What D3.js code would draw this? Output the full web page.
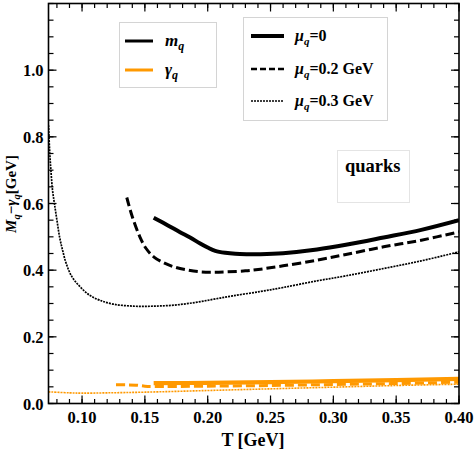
<!DOCTYPE html>
<html>
<head>
<meta charset="utf-8">
<script src="https://cdn.jsdelivr.net/npm/d3@7"></script>
<style>
  body { margin: 0; background: #fff; }
  svg { display: block; font-family: "Liberation Serif", "DejaVu Serif", serif; font-weight: bold; }
</style>
</head>
<body>
<svg width="474" height="452"></svg>
<script>
// ---- data (T in GeV)
const tMass0 = [0.157, 0.168, 0.178, 0.186, 0.194, 0.200, 0.206, 0.214, 0.222, 0.232, 0.242, 0.260, 0.287, 0.310, 0.340, 0.370, 0.400];
const mMass0 = [0.557, 0.535, 0.514, 0.498, 0.480, 0.468, 0.458, 0.452, 0.449, 0.448, 0.448, 0.451, 0.462, 0.476, 0.498, 0.521, 0.550];

const tMass2 = [0.1356, 0.140, 0.146, 0.151, 0.157, 0.165, 0.173, 0.183, 0.194, 0.205, 0.215, 0.230, 0.242, 0.260, 0.287, 0.310, 0.340, 0.370, 0.400];
const mMass2 = [0.618, 0.560, 0.500, 0.465, 0.440, 0.422, 0.410, 0.401, 0.395, 0.394, 0.395, 0.398, 0.403, 0.413, 0.430, 0.447, 0.470, 0.490, 0.515];

const tMass3 = [0.0733, 0.0742, 0.0752, 0.0765, 0.078, 0.080, 0.0821, 0.0845, 0.0874, 0.092, 0.0985, 0.106, 0.114, 0.125, 0.141, 0.157, 0.173, 0.190, 0.205, 0.220, 0.242, 0.260, 0.287, 0.310, 0.340, 0.370, 0.400];
const mMass3 = [0.835, 0.760, 0.700, 0.640, 0.600, 0.550, 0.500, 0.460, 0.420, 0.380, 0.350, 0.325, 0.310, 0.298, 0.292, 0.292, 0.295, 0.303, 0.313, 0.323, 0.336, 0.348, 0.368, 0.383, 0.405, 0.428, 0.455];

const tGam0 = [0.157, 0.200, 0.250, 0.300, 0.350, 0.400];
const gGam0 = [0.061, 0.062, 0.064, 0.067, 0.070, 0.074];

const tGam2 = [0.127, 0.135, 0.143, 0.150, 0.157, 0.200, 0.250, 0.300, 0.350, 0.400];
const gGam2 = [0.056, 0.056, 0.055, 0.052, 0.051, 0.052, 0.054, 0.057, 0.060, 0.064];

const tGam3 = [0.0733, 0.090, 0.100, 0.120, 0.150, 0.200, 0.250, 0.300, 0.350, 0.400];
const gGam3 = [0.035, 0.032, 0.031, 0.032, 0.034, 0.039, 0.044, 0.049, 0.054, 0.058];

const xTicks = [0.10, 0.15, 0.20, 0.25, 0.30, 0.35, 0.40];
const yTicks = [0.0, 0.2, 0.4, 0.6, 0.8, 1.0];

const svg = d3.select('svg');
const margin = { left: 48.5, right: 15, top: 3.5, bottom: 48.5 };
const width = 474 - margin.left - margin.right;
const height = 452 - margin.top - margin.bottom;

const x = d3.scaleLinear().domain([0.0733, 0.4]).range([0, width]);
const y = d3.scaleLinear().domain([0, 1.2]).range([height, 0]);

const g = svg.append('g').attr('transform', `translate(${margin.left},${margin.top})`);

// ---- curves
const ORANGE = '#ff9900';
const line = d3.line().x(d => x(d[0])).y(d => y(d[1])).curve(d3.curveCatmullRom.alpha(0.5));
const zip = (a, b) => a.map((v, i) => [v, b[i]]);

g.append('defs').append('clipPath').attr('id', 'clip')
  .append('rect').attr('width', width).attr('height', height);
const curves = g.append('g').attr('clip-path', 'url(#clip)');

const series = [
  { d: zip(tGam3, gGam3), c: ORANGE, w: 1.6, dash: '2,1' },
  { d: zip(tGam2, gGam2), c: ORANGE, w: 3, dash: '9,4' },
  { d: zip(tGam0, gGam0), c: ORANGE, w: 4.2, dash: null },
  { d: zip(tMass3, mMass3), c: '#000', w: 1.7, dash: '2,1' },
  { d: zip(tMass2, mMass2), c: '#000', w: 3, dash: '9,4' },
  { d: zip(tMass0, mMass0), c: '#000', w: 4, dash: null }
];

curves.selectAll('path')
  .data(series)
  .join('path')
  .attr('d', s => line(s.d))
  .attr('fill', 'none')
  .attr('stroke', s => s.c)
  .attr('stroke-width', s => s.w)
  .attr('stroke-dasharray', s => s.dash);

// ---- axes (ticks inside, on all four sides)
const xMinor = d3.range(8, 41).map(v => v / 100);
const yMinor = d3.range(0, 25).map(v => v * 0.05);

function ticks(vals, scale, isX, side, len) {
  g.append('g').selectAll('line')
    .data(vals)
    .join('line')
    .attr('x1', d => isX ? scale(d) : (side === 'start' ? 0 : width))
    .attr('x2', d => isX ? scale(d) : (side === 'start' ? len : width - len))
    .attr('y1', d => isX ? (side === 'start' ? height : 0) : scale(d))
    .attr('y2', d => isX ? (side === 'start' ? height - len : len) : scale(d))
    .attr('stroke', '#000')
    .attr('stroke-width', 1.2);
}
ticks(xMinor, x, true, 'start', 4.5);
ticks(xMinor, x, true, 'end', 4.5);
ticks(xTicks, x, true, 'start', 8);
ticks(xTicks, x, true, 'end', 8);
ticks(yMinor, y, false, 'start', 5);
ticks(yMinor, y, false, 'end', 5);
ticks(yTicks, y, false, 'start', 8);
ticks(yTicks, y, false, 'end', 8);

g.append('rect')
  .attr('width', width).attr('height', height)
  .attr('fill', 'none').attr('stroke', '#000').attr('stroke-width', 1.6);

g.append('g').selectAll('text')
  .data(xTicks)
  .join('text')
  .attr('x', d => x(d))
  .attr('y', height + 19)
  .attr('text-anchor', 'middle')
  .attr('font-size', 16.5)
  .text(d => d3.format('.2f')(d));

g.append('g').selectAll('text')
  .data(yTicks)
  .join('text')
  .attr('x', -5)
  .attr('y', d => y(d) + 6)
  .attr('text-anchor', 'end')
  .attr('font-size', 16.5)
  .text(d => d3.format('.1f')(d));

// ---- axis titles
svg.append('text')
  .attr('x', 253)
  .attr('y', 446)
  .attr('text-anchor', 'middle')
  .attr('font-size', 18)
  .text('T [GeV]');

const yt = svg.append('text')
  .attr('transform', 'translate(16,194) rotate(-90)')
  .attr('text-anchor', 'middle')
  .attr('font-size', 15);
yt.append('tspan').attr('font-style', 'italic').text('M');
yt.append('tspan').attr('font-style', 'italic').attr('font-size', 10.5).attr('dy', 3.5).text('q');
yt.append('tspan').attr('dy', -3.5).text('\u2212');
yt.append('tspan').attr('font-style', 'italic').text('\u03b3');
yt.append('tspan').attr('font-style', 'italic').attr('font-size', 10.5).attr('dy', 3.5).text('q');
yt.append('tspan').attr('dy', -3.5).text('[GeV]');

// ---- legend: quantity
const leg1 = svg.append('g');
leg1.append('rect').attr('x', 119.5).attr('y', 22.5).attr('width', 97).attr('height', 65)
  .attr('fill', '#fff').attr('stroke', '#d4d4d4');
const leg1Items = [{ c: '#000', s: 'm', yy: 41 }, { c: ORANGE, s: '\u03b3', yy: 70 }];
leg1Items.forEach(it => {
  leg1.append('line').attr('x1', 125).attr('x2', 153).attr('y1', it.yy).attr('y2', it.yy)
    .attr('stroke', it.c).attr('stroke-width', 3);
  const t = leg1.append('text').attr('x', 165).attr('y', it.yy + 5).attr('font-size', 17).attr('font-style', 'italic');
  t.append('tspan').text(it.s);
  t.append('tspan').attr('font-size', 12).attr('dy', 4).text('q');
});

// ---- legend: chemical potential
const leg2 = svg.append('g');
leg2.append('rect').attr('x', 243.5).attr('y', 17.5).attr('width', 144).attr('height', 103)
  .attr('fill', '#fff').attr('stroke', '#d4d4d4');
const leg2Items = [
  { w: 4, dash: null, label: '=0', yy: 36 },
  { w: 2.5, dash: '6,3', label: '=0.2 GeV', yy: 69 },
  { w: 1.3, dash: '2,1', label: '=0.3 GeV', yy: 101 }
];
leg2Items.forEach(it => {
  leg2.append('line').attr('x1', 251).attr('x2', 284).attr('y1', it.yy).attr('y2', it.yy)
    .attr('stroke', '#000').attr('stroke-width', it.w).attr('stroke-dasharray', it.dash);
  const t = leg2.append('text').attr('x', 295).attr('y', it.yy + 5).attr('font-size', 16);
  t.append('tspan').attr('font-style', 'italic').text('\u03bc');
  t.append('tspan').attr('font-style', 'italic').attr('font-size', 11).attr('dy', 4).text('q');
  t.append('tspan').attr('dy', -4).text(it.label);
});

// ---- label box
svg.append('rect').attr('x', 337.5).attr('y', 150.5).attr('width', 72).attr('height', 52)
  .attr('fill', '#fff').attr('stroke', '#e4e4e4');
svg.append('text').attr('x', 345).attr('y', 172).attr('font-size', 18.5).text('quarks');
</script>
</body>
</html>
